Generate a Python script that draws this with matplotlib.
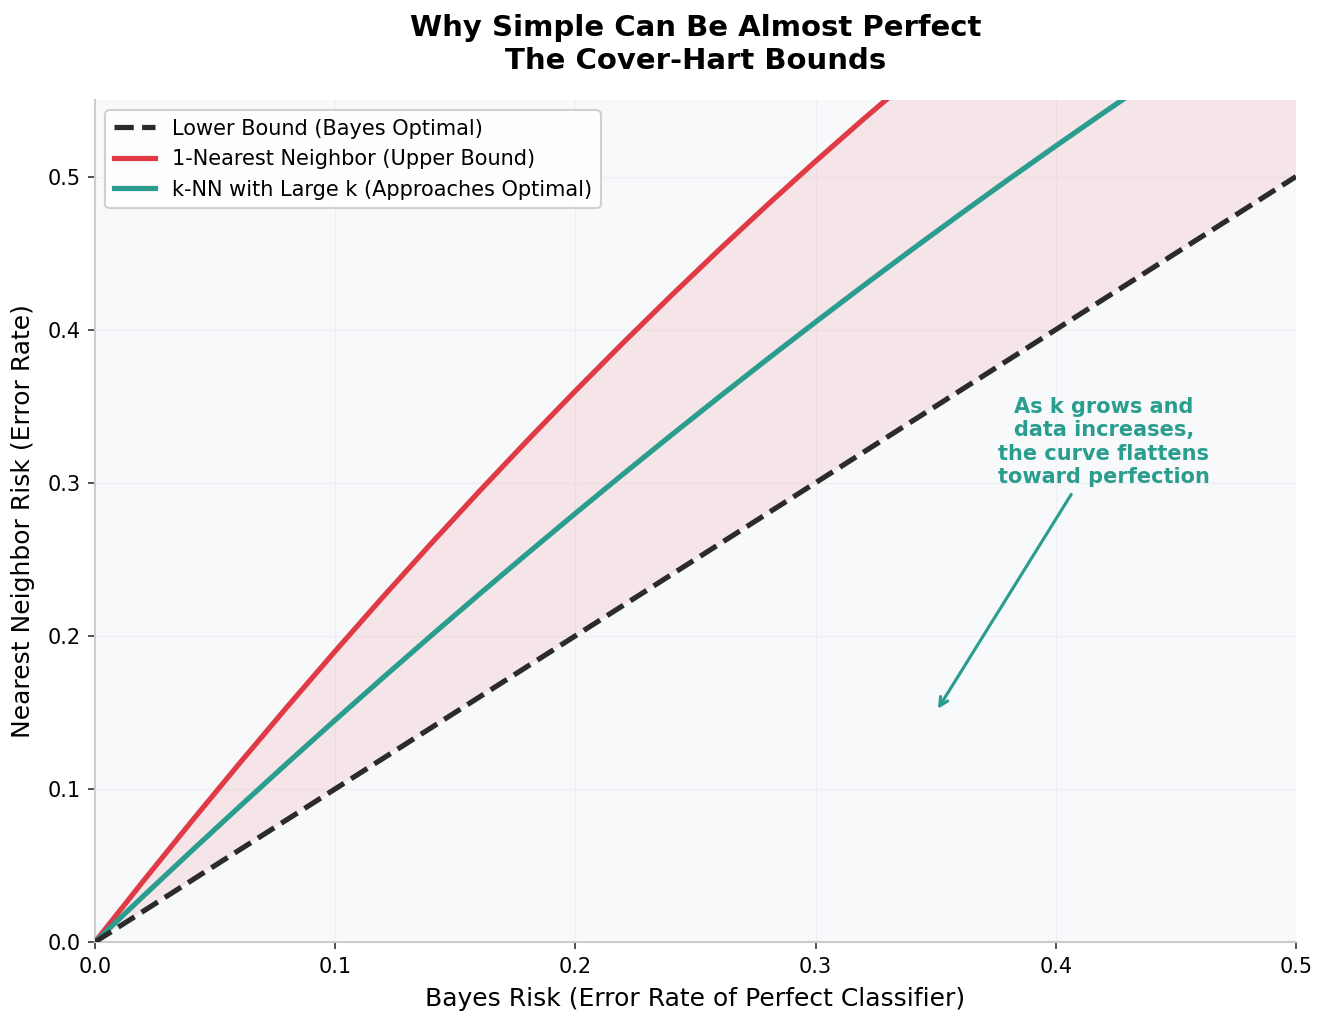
import matplotlib
matplotlib.use("Agg")
import matplotlib.pyplot as plt

bayes_risk = [0.00, 0.02, 0.04, 0.06, 0.08, 0.10, 0.12, 0.14, 0.16, 0.18, 0.20, 0.22, 0.24,
              0.26, 0.28, 0.30, 0.32, 0.34, 0.36, 0.38, 0.40, 0.42, 0.44, 0.46, 0.48, 0.50]
lower_bound = list(bayes_risk)
nn1_risk = [0.0, 0.0396, 0.0784, 0.1164, 0.1536, 0.19, 0.2256, 0.2604, 0.2944, 0.3276, 0.36,
            0.3916, 0.4224, 0.4524, 0.4816, 0.51, 0.5376, 0.5644, 0.5904, 0.6156, 0.64,
            0.6636, 0.6864, 0.7084, 0.7296, 0.75]
knn_risk = [0.0, 0.0298, 0.0592, 0.0882, 0.1168, 0.145, 0.1728, 0.2002, 0.2272, 0.2538, 0.28,
            0.3058, 0.3312, 0.3562, 0.3808, 0.405, 0.4288, 0.4522, 0.4752, 0.4978, 0.52,
            0.5418, 0.5632, 0.5842, 0.6048, 0.625]
ticks = [0.0, 0.1, 0.2, 0.3, 0.4, 0.5]

RED = "#e03a45"
TEAL = "#2a9d8f"
DARK = "#2b2b2b"

DPI = 150
fig = plt.figure(figsize=(1327 / DPI, 1025 / DPI), dpi=DPI)
ax = fig.add_axes([95/1327, 1 - 942/1025, (1296-95)/1327, (942-100)/1025])
ax.set_facecolor("#f8f9fb")

ax.fill_between(bayes_risk, lower_bound, nn1_risk, color="#e63946", alpha=0.1, linewidth=0, zorder=1)
ax.plot(bayes_risk, nn1_risk, color=RED, lw=2.5, label="1-Nearest Neighbor (Upper Bound)", zorder=3)
ax.plot(bayes_risk, knn_risk, color=TEAL, lw=2.5, label="k-NN with Large k (Approaches Optimal)", zorder=3)
ax.plot(bayes_risk, lower_bound, color=DARK, lw=2.5, ls="--",
        label="Lower Bound (Bayes Optimal)", zorder=4)

ax.set_xlim(0, 0.5)
ax.set_ylim(0, 0.55)
ax.set_xticks(ticks)
ax.set_yticks(ticks)
ax.tick_params(labelsize=10, length=3.5, color="#333333")
ax.grid(True, color="#e6e6ea", lw=0.6, alpha=0.5)
ax.set_axisbelow(True)
for s in ["top", "right"]:
    ax.spines[s].set_visible(False)
for s in ["left", "bottom"]:
    ax.spines[s].set_color("#cccccc")
    ax.spines[s].set_linewidth(1.0)

ax.set_xlabel("Bayes Risk (Error Rate of Perfect Classifier)", fontsize=12, labelpad=5)
ax.set_ylabel("Nearest Neighbor Risk (Error Rate)", fontsize=12, labelpad=6)
ax.set_title("Why Simple Can Be Almost Perfect\nThe Cover-Hart Bounds", fontsize=14,
             fontweight="bold", pad=15, linespacing=1.2)

handles, labels = ax.get_legend_handles_labels()
order = [2, 0, 1]
ax.legend([handles[i] for i in order], [labels[i] for i in order], loc="upper left",
          fontsize=10, frameon=True, framealpha=0.9, edgecolor="#cccccc")

ax.annotate("As k grows and\ndata increases,\nthe curve flattens\ntoward perfection",
            xy=(0.35, 0.15), xytext=(0.42, 0.30), ha="center",
            fontsize=10, fontweight="bold", color=TEAL,
            arrowprops=dict(arrowstyle="->", color=TEAL, lw=1.5))

fig.savefig("out.png", dpi=DPI)
